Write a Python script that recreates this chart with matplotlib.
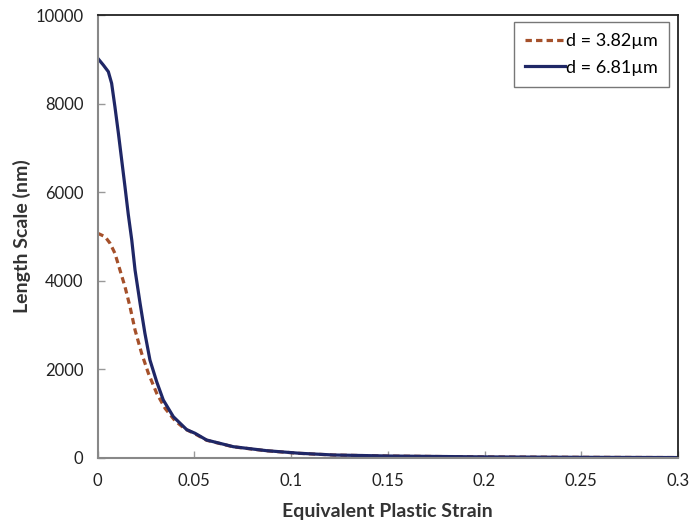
import matplotlib
matplotlib.use("Agg")
import matplotlib.pyplot as plt

plt.rcParams['font.family'] = ['Lato', 'DejaVu Sans']

# Data
strain_small = [0.0, 0.0039, 0.0065, 0.009, 0.0116, 0.0142, 0.0168, 0.0194, 0.0228,
                0.0263, 0.0306, 0.0349, 0.04, 0.0452, 0.0504, 0.0564, 0.0702,
                0.0874, 0.1047, 0.1219, 0.15, 0.2, 0.25, 0.3]
length_small = [5075, 4996, 4846, 4621, 4244, 3867, 3415, 2889, 2363,
                1912, 1460, 1122, 845, 655, 545, 400, 252,
                163, 104, 67, 44, 24, 15, 10]

strain_large = [0.0, 0.003, 0.0056, 0.0073, 0.009, 0.0108, 0.0125, 0.0142, 0.0159,
                0.0177, 0.0194, 0.022, 0.0245, 0.0271, 0.0306, 0.034, 0.0392,
                0.0461, 0.0504, 0.0564, 0.0702, 0.0874, 0.1047, 0.1219, 0.15,
                0.2, 0.25, 0.3]
length_large = [9030, 8871, 8720, 8458, 7930, 7330, 6727, 6124, 5500,
                4921, 4244, 3492, 2815, 2212, 1720, 1309, 932,
                640, 558, 406, 255, 165, 106, 68, 45,
                25, 15, 10]

label_small = "d = 3.82\u00b5m"
label_large = "d = 6.81\u00b5m"
xticks = [0, 0.05, 0.1, 0.15, 0.2, 0.25, 0.3]
xtick_labels = ["0", "0.05", "0.1", "0.15", "0.2", "0.25", "0.3"]
yticks = [0, 2000, 4000, 6000, 8000, 10000]

fig = plt.figure(figsize=(6.92, 5.21), dpi=100)
ax = fig.add_axes([97.5/692, 1-458/521, (678-97.5)/692, (458-15)/521])

ax.plot(strain_small, length_small, color='#A5502A', lw=2.3, ls=(0, (2.0, 1.3)),
        label=label_small, solid_joinstyle='round')
ax.plot(strain_large, length_large, color='#1F2766', lw=2.3, label=label_large,
        solid_joinstyle='round')

ax.set_xlim(0, 0.3)
ax.set_ylim(0, 10000)
ax.set_xticks(xticks)
ax.set_xticklabels(xtick_labels)
ax.set_yticks(yticks)

for s in ['left', 'bottom']:
    ax.spines[s].set_color('#888888')
    ax.spines[s].set_linewidth(1.5)
for s in ['top', 'right']:
    ax.spines[s].set_color('#222222')
    ax.spines[s].set_linewidth(1.3)

ax.tick_params(direction='in', color='#999999', length=5, width=1,
               labelsize=12, labelcolor='#222222', pad=11)
ax.tick_params(axis='y', pad=10)

ax.set_xlabel("Equivalent Plastic Strain", fontsize=14, fontweight='bold',
              color='#333333', labelpad=10)
ax.set_ylabel("Length Scale (nm)", fontsize=14, fontweight='bold',
              color='#333333', labelpad=3)

leg = ax.legend(loc='upper right', fontsize=13, frameon=True,
                fancybox=False, edgecolor='#555555', handlelength=2.2,
                handletextpad=0.1, borderpad=0.6, labelspacing=0.6,
                borderaxespad=0)
leg.set_bbox_to_anchor((669/692, 1-22/521), transform=fig.transFigure)
leg.get_frame().set_linewidth(1.0)

fig.savefig("out.png", dpi=100)
